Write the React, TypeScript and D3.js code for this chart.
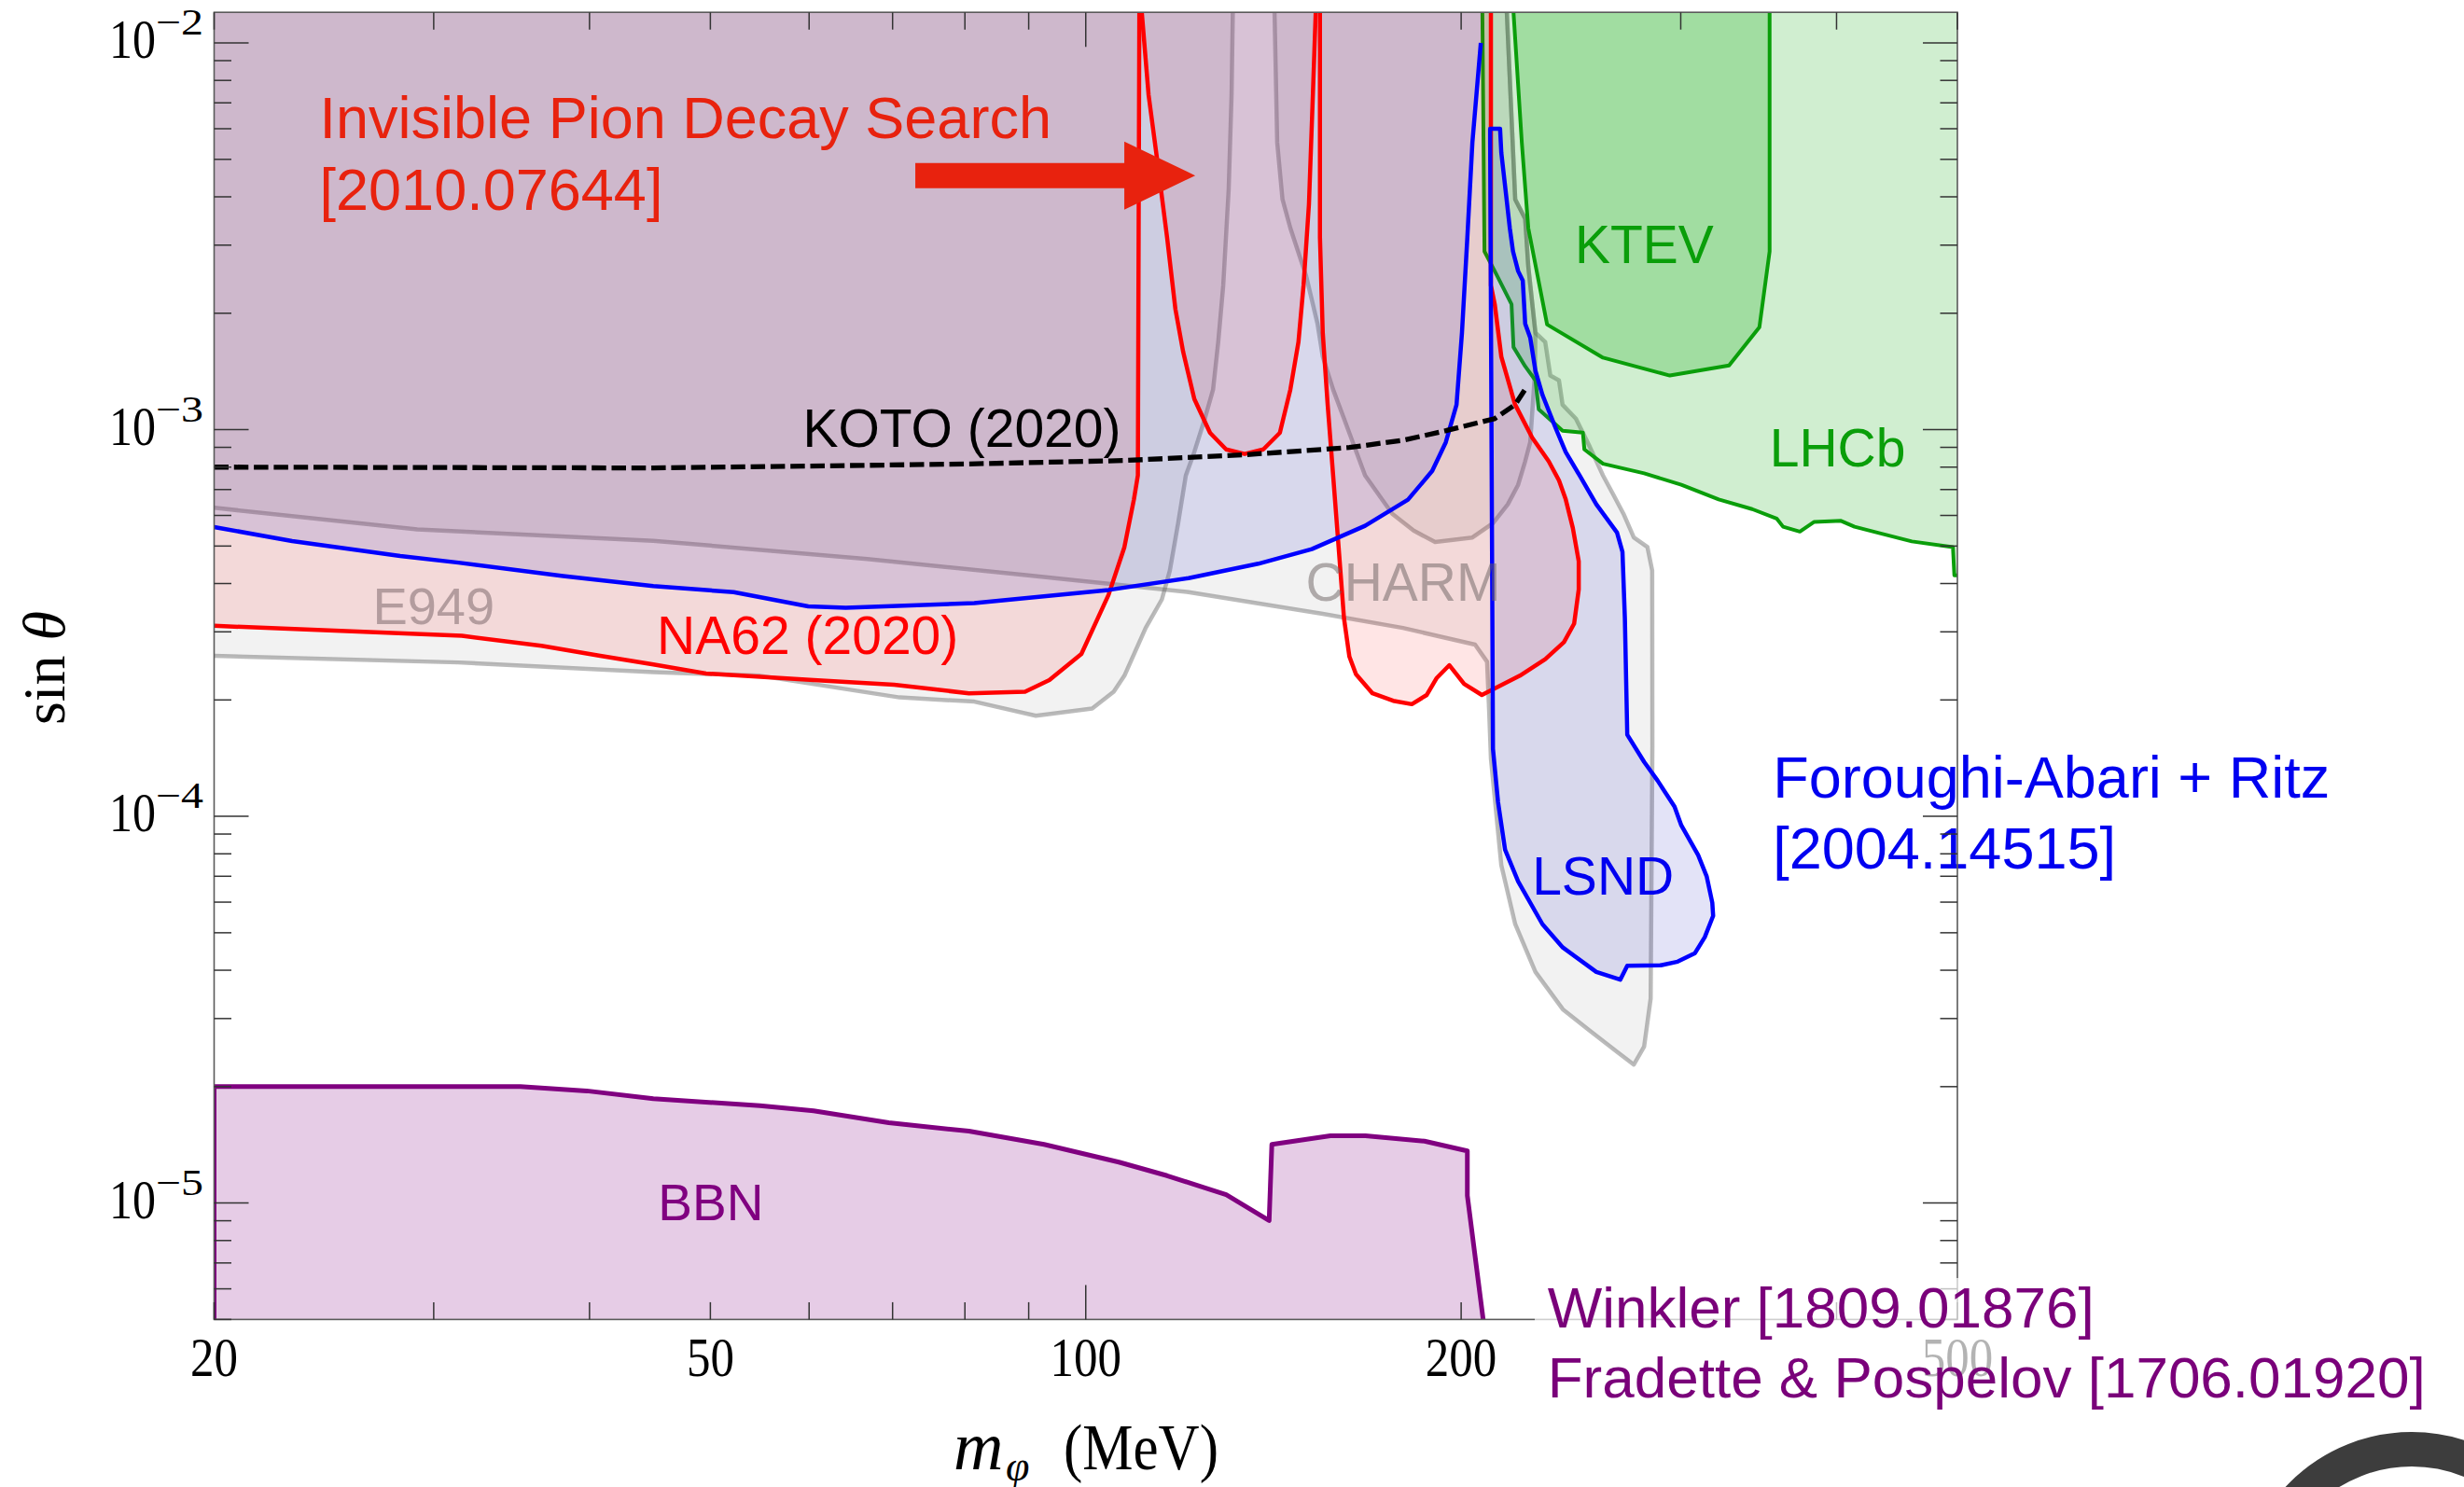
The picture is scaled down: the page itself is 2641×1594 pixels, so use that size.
import React, { useEffect } from 'react';
import * as d3 from 'd3';

type Pt = [number, number];

// ---------- axes ----------
const xDomain: [number, number] = [20, 500];
const yDomain: [number, number] = [5e-6, 1.2e-2];
const xTickValues = [20, 30, 40, 50, 60, 70, 80, 90, 100, 200, 300, 400, 500];
const xMajorTicks = [100];
const xTickLabels = [20, 50, 100, 200, 500];
const yDecades = [-6, -5, -4, -3, -2];
const yLabelExponents = [-5, -4, -3, -2];

// ---------- data: (m_phi [MeV], sin theta) ----------
const e949Left: Pt[] = [
  [20, 2.6e-4], [31.4, 2.5e-4], [45, 2.36e-4], [54.8, 2.31e-4], [70.9, 2.03e-4], [81.4, 1.98e-4],
  [91.2, 1.82e-4], [101.2, 1.9e-4], [105.3, 2.1e-4], [107.4, 2.31e-4], [111.7, 3.07e-4], [115.1, 3.64e-4],
  [116.8, 4.32e-4], [118.6, 5.73e-4], [120.3, 7.61e-4], [122.2, 8.76e-4], [124.6, 1.068e-3], [126.5, 1.269e-3],
  [127.7, 1.68e-3], [128.9, 2.36e-3], [130.2, 4.17e-3], [130.9, 7.34e-3], [131.2, 1.2e-2],
];
const e949Right: Pt[] = [
  [141.7, 1.2e-2], [142.4, 5.53e-3], [143.8, 3.94e-3], [145.9, 3.32e-3], [150.2, 2.5e-3], [153.4, 1.88e-3],
  [154.9, 1.544e-3], [157.9, 1.269e-3], [161.1, 1.068e-3], [167.5, 7.61e-4], [176.1, 6.06e-4], [183.2, 5.48e-4],
  [190.6, 5.12e-4], [204.2, 5.26e-4], [212.1, 5.73e-4], [218.0, 6.41e-4], [222.2, 7.2e-4], [225.1, 8.28e-4],
  [227.2, 9.27e-4], [229.2, 1.402e-3], [229.4, 1.78e-3], [226.4, 2.64e-3], [225.1, 3.51e-3], [221.0, 3.94e-3],
  [217.6, 1.2e-2],
];
const charmLsndOld: Pt[] = [
  [20, 6.28e-4], [29.1, 5.52e-4], [45, 5.16e-4], [66.8, 4.63e-4], [89.9, 4.2e-4], [120.9, 3.8e-4],
  [154.9, 3.34e-4], [179.6, 3.07e-4], [205.2, 2.78e-4], [209.8, 2.51e-4], [210.6, 1.88e-4], [211.3, 1.41e-4],
  [215.4, 7.47e-5], [221.0, 5.26e-5], [229.4, 3.96e-5], [241.3, 3.17e-5], [253.7, 2.79e-5], [266.7, 2.46e-5],
  [275.1, 2.28e-5], [280.4, 2.54e-5], [283.8, 3.38e-5], [284.7, 1.52e-4], [284.6, 4.32e-4], [282.1, 4.97e-4],
  [275.1, 5.26e-4], [269.9, 6.06e-4], [264.9, 6.79e-4], [259.9, 7.61e-4], [253.7, 9.01e-4], [247.2, 1.068e-3],
  [241.2, 1.16e-3], [239.6, 1.341e-3], [235.8, 1.38e-3], [233.6, 1.684e-3], [229.4, 1.78e-3], [226.4, 2.64e-3],
  [225.1, 3.51e-3], [221.0, 3.94e-3], [217.6, 1.2e-2],
];
const lhcb: Pt[] = [
  [208.0, 1.2e-2], [208.8, 2.89e-3], [212.8, 2.57e-3], [219.5, 2.11e-3], [220.3, 1.634e-3], [225.1, 1.458e-3],
  [229.4, 1.341e-3], [230.8, 1.129e-3], [241.2, 9.94e-4], [250.4, 9.83e-4], [251.1, 8.89e-4], [259.9, 8.16e-4],
  [280.4, 7.71e-4], [300.3, 7.2e-4], [321.8, 6.6e-4], [342.3, 6.23e-4], [358.1, 5.89e-4], [362.4, 5.61e-4],
  [373.8, 5.45e-4], [383.6, 5.77e-4], [403.3, 5.81e-4], [413.5, 5.61e-4], [434.8, 5.38e-4], [459.7, 5.14e-4],
  [495.9, 4.97e-4], [497.2, 4.2e-4], [500, 4.2e-4],
];
const ktev: Pt[] = [
  [220.3, 1.2e-2], [223.7, 5.53e-3], [226.4, 3.32e-3], [234.4, 1.87e-3], [259.9, 1.535e-3], [294.0, 1.38e-3],
  [328.0, 1.466e-3], [346.9, 1.84e-3], [353.5, 2.89e-3], [353.5, 1.2e-2],
];
const na62Left: Pt[] = [
  [20, 3.11e-4], [31.6, 2.93e-4], [36.6, 2.76e-4], [40.8, 2.6e-4], [45, 2.47e-4], [49.6, 2.34e-4],
  [60.5, 2.25e-4], [70.2, 2.19e-4], [80.6, 2.08e-4], [89.4, 2.1e-4], [93.5, 2.25e-4], [99.2, 2.63e-4],
  [104.3, 3.74e-4], [107.4, 4.97e-4], [109.3, 6.6e-4], [110.1, 7.61e-4], [110.4, 1.2e-2],
];
const invisiblePion: Pt[] = [
  [110.9, 1.2e-2], [112.3, 7.34e-3], [114.0, 5.09e-3], [116.2, 3.14e-3], [118.0, 2.05e-3], [119.7, 1.59e-3],
  [122.2, 1.2e-3], [125.8, 9.81e-4], [129.6, 8.89e-4], [134.1, 8.65e-4], [138.8, 8.89e-4], [143.1, 9.81e-4],
  [145.9, 1.269e-3], [148.1, 1.684e-3], [149.5, 2.36e-3], [151.0, 3.83e-3], [152.1, 7.34e-3], [152.9, 1.2e-2],
];
const na62Right: Pt[] = [
  [154.1, 1.2e-2], [154.1, 3.14e-3], [154.9, 1.78e-3], [156.3, 1.163e-3], [157.9, 7.61e-4], [159.5, 4.97e-4],
  [161.1, 3.25e-4], [162.7, 2.59e-4], [164.7, 2.33e-4], [169.8, 2.08e-4], [176.4, 1.99e-4], [182.6, 1.95e-4],
  [187.7, 2.06e-4], [191.2, 2.28e-4], [195.7, 2.46e-4], [201.1, 2.2e-4], [207.8, 2.06e-4], [214.6, 2.17e-4],
  [222.9, 2.31e-4], [233.6, 2.55e-4], [241.8, 2.82e-4], [246.4, 3.15e-4], [248.5, 3.86e-4], [248.5, 4.57e-4],
  [245.8, 5.57e-4], [242.6, 6.6e-4], [239.6, 7.39e-4], [235.1, 8.28e-4], [228.0, 9.54e-4], [220.9, 1.163e-3],
  [215.4, 1.544e-3], [212.8, 2.11e-3], [211.3, 2.36e-3], [211.3, 1.2e-2],
];
const blueMain: Pt[] = [
  [20, 5.6e-4], [23.1, 5.15e-4], [28.2, 4.71e-4], [31.4, 4.53e-4], [38.1, 4.18e-4], [45, 3.94e-4],
  [52.2, 3.8e-4], [59.9, 3.49e-4], [64.2, 3.46e-4], [81.4, 3.56e-4], [104.3, 3.85e-4], [120.9, 4.13e-4],
  [137.5, 4.5e-4], [151.8, 4.91e-4], [167.5, 5.64e-4], [181.3, 6.59e-4], [189.6, 7.82e-4], [194.4, 9.27e-4],
  [198.3, 1.16e-3], [200.3, 1.78e-3], [202.3, 3.14e-3], [204.2, 5.53e-3], [207.4, 1.0e-2],
];
const lsndBlue: Pt[] = [
  [211.0, 5.55e-3], [211.0, 6.0e-3], [214.9, 6.0e-3], [215.4, 5.2e-3], [217.3, 4.05e-3], [218.8, 3.32e-3],
  [220.1, 2.89e-3], [222.2, 2.57e-3], [224.1, 2.43e-3], [225.1, 1.88e-3], [227.2, 1.73e-3], [229.4, 1.42e-3],
  [232.4, 1.23e-3], [238.1, 1.01e-3], [242.6, 8.75e-4], [248.9, 7.61e-4], [256.7, 6.41e-4], [266.7, 5.42e-4],
  [269.4, 4.83e-4], [270.6, 3.25e-4], [271.8, 1.625e-4], [280.4, 1.383e-4], [287.4, 1.238e-4], [296.6, 1.059e-4],
  [300.3, 9.48e-5], [309.8, 7.94e-5], [314.7, 7.0e-5], [318.0, 5.98e-5], [318.5, 5.53e-5], [313.6, 4.87e-5],
  [308.0, 4.43e-5], [298.3, 4.21e-5], [289.2, 4.12e-5], [271.8, 4.11e-5], [268.3, 3.78e-5], [256.7, 3.96e-5],
  [241.3, 4.58e-5], [232.4, 5.26e-5], [222.2, 6.79e-5], [216.9, 8.2e-5], [214.1, 1.089e-4], [212.1, 1.495e-4],
  [211.0, 5.55e-3],
];
const bbn: Pt[] = [
  [20, 5.0e-6], [20, 2.0e-5], [35.2, 2.0e-5], [39.8, 1.95e-5], [45, 1.862e-5], [54.8, 1.785e-5],
  [60.5, 1.732e-5], [69.5, 1.614e-5], [80.6, 1.534e-5], [92.6, 1.418e-5], [106.3, 1.276e-5], [116.2, 1.177e-5],
  [129.6, 1.051e-5], [140.3, 9.01e-6], [141.0, 1.418e-5], [157.1, 1.493e-5], [167.6, 1.493e-5], [186.9, 1.446e-5],
  [202.3, 1.364e-5], [202.3, 1.045e-5], [208.3, 5.0e-6],
];
const koto: Pt[] = [
  [20, 8.0e-4], [45, 7.96e-4], [60, 8.05e-4], [80, 8.15e-4], [107.4, 8.32e-4], [133.4, 8.6e-4],
  [162.7, 8.99e-4], [180, 9.4e-4], [194.5, 9.94e-4], [212.8, 1.068e-3], [221, 1.161e-3], [226, 1.297e-3],
];

// annotation arrow (data space)
const arrowFrom: Pt = [73.0, 4.54e-3];
const arrowTo: Pt = [122.4, 4.54e-3];

type Label = { text: string; m: number; s: number; color: string; size: number };
const labels: Label[] = [
  { text: 'Invisible Pion Decay Search', m: 24.3, s: 5.69e-3, color: '#E8220E', size: 63 },
  { text: '[2010.07644]', m: 24.3, s: 3.71e-3, color: '#E8220E', size: 63 },
  { text: 'KOTO (2020)', m: 59.3, s: 9.01e-4, color: '#000000', size: 57 },
  { text: 'NA62 (2020)', m: 45.3, s: 2.63e-4, color: '#FF0000', size: 57 },
  { text: 'E949', m: 26.8, s: 3.14e-4, color: 'rgba(115,95,100,0.5)', size: 56 },
  { text: 'CHARM', m: 150.1, s: 3.6e-4, color: 'rgba(105,95,95,0.5)', size: 57 },
  { text: 'KTEV', m: 246.7, s: 2.69e-3, color: '#0A9E0A', size: 57 },
  { text: 'LHCb', m: 353.5, s: 8.04e-4, color: '#0A9E0A', size: 57 },
  { text: 'LSND', m: 228.0, s: 6.27e-5, color: '#0000F0', size: 57 },
  { text: 'Foroughi-Abari + Ritz', m: 355.6, s: 1.12e-4, color: '#0000F0', size: 63 },
  { text: '[2004.14515]', m: 355.6, s: 7.35e-5, color: '#0000F0', size: 63 },
  { text: 'BBN', m: 45.4, s: 9.01e-6, color: '#800080', size: 55 },
];
const refLabels: Label[] = [
  { text: 'Winkler [1809.01876]', m: 234.6, s: 4.77e-6, color: '#7A007A', size: 62 },
  { text: 'Fradette & Pospelov [1706.01920]', m: 234.6, s: 3.15e-6, color: '#7A007A', size: 62 },
];

const W = 2641;
const H = 1594;
const L = 229.5;
const R = 2098;
const T = 13.2;
const B = 1414.4;

const GRAY_FILL = 'rgba(0,0,0,0.05)';
const GRAY_STROKE = 'rgba(105,105,105,0.45)';
const PINK_FILL = 'rgba(255,0,0,0.1)';
const BLUE_FILL = 'rgba(70,70,200,0.15)';
const SANS = 'Liberation Sans, Arial, Helvetica, sans-serif';
const SERIF = 'Liberation Serif, Times New Roman, serif';

export default function App() {
  useEffect(() => {
    document.body.style.margin = '0';
    document.body.style.overflow = 'hidden';
  }, []);

  const x = d3.scaleLog().domain(xDomain).range([L, R]);
  const y = d3.scaleLog().domain(yDomain).range([B, T]);
  const line = d3.line<Pt>().x((d) => x(d[0])).y((d) => y(d[1]));
  const OUT_TOP = 0.05;
  const OUT_BOT = 1e-6;
  const fillAbove = (p: Pt[]) =>
    (line([...p, [p[p.length - 1][0], OUT_TOP], [p[0][0], OUT_TOP]]) || '') + 'Z';
  const fillBelow = (p: Pt[]) =>
    (line([...p, [p[p.length - 1][0], OUT_BOT], [p[0][0], OUT_BOT]]) || '') + 'Z';
  const closed = (p: Pt[]) => (line(p) || '') + 'Z';
  const open = (p: Pt[]) => line(p) || '';

  // y ticks
  const yTicks: { v: number; major: boolean }[] = [];
  yDecades.forEach((k) => {
    for (let m = 1; m <= 9; m++) {
      const v = m * Math.pow(10, k);
      if (v >= yDomain[0] * 0.999 && v <= yDomain[1]) yTicks.push({ v, major: m === 1 });
    }
  });

  // arrow geometry
  const ax0 = x(arrowFrom[0]);
  const ax1 = x(arrowTo[0]);
  const ay = y(arrowFrom[1]);
  const headLen = 76;
  const shaftHalf = 13.5;
  const headHalf = 36.5;
  const arrowPts = [
    [ax0, ay - shaftHalf], [ax1 - headLen, ay - shaftHalf], [ax1 - headLen, ay - headHalf], [ax1, ay],
    [ax1 - headLen, ay + headHalf], [ax1 - headLen, ay + shaftHalf], [ax0, ay + shaftHalf],
  ];

  return (
    <svg
      width={W}
      height={H}
      viewBox={`0 0 ${W} ${H}`}
      style={{ position: 'absolute', left: 0, top: 0, display: 'block' }}
    >
      <defs>
        <clipPath id="plotArea">
          <rect x={L} y={T} width={R - L} height={B - T} />
        </clipPath>
      </defs>
      <rect x={0} y={0} width={W} height={H} fill="#ffffff" />

      <g clipPath="url(#plotArea)">
        {/* old gray constraints */}
        <path d={fillAbove(e949Left)} fill={GRAY_FILL} />
        <path d={fillAbove(e949Right)} fill={GRAY_FILL} />
        <path d={fillAbove(charmLsndOld)} fill={GRAY_FILL} />
        <path d={open(e949Left)} fill="none" stroke={GRAY_STROKE} strokeWidth={4.5} strokeLinejoin="round" />
        <path d={open(e949Right)} fill="none" stroke={GRAY_STROKE} strokeWidth={4.5} strokeLinejoin="round" />
        <path d={open(charmLsndOld)} fill="none" stroke={GRAY_STROKE} strokeWidth={4.5} strokeLinejoin="round" />

        {/* green */}
        <path d={fillAbove(lhcb)} fill="rgba(20,170,20,0.2)" />
        <path d={fillAbove(ktev)} fill="rgba(20,170,20,0.25)" />
        <path d={open(lhcb)} fill="none" stroke="#0A9E0A" strokeWidth={4} strokeLinejoin="round" />
        <path d={open(ktev)} fill="none" stroke="#0A9E0A" strokeWidth={4} strokeLinejoin="round" />

        {/* red fills */}
        <path d={fillAbove(na62Left)} fill={PINK_FILL} />
        <path d={fillAbove(invisiblePion)} fill={PINK_FILL} />
        <path d={fillAbove(na62Right)} fill={PINK_FILL} />
        {/* blue fills */}
        <path d={fillAbove(blueMain)} fill={BLUE_FILL} />
        <path d={closed(lsndBlue)} fill={BLUE_FILL} />

        {/* strokes */}
        <path d={open(na62Left)} fill="none" stroke="#FF0000" strokeWidth={4.5} strokeLinejoin="round" />
        <path d={open(invisiblePion)} fill="none" stroke="#FF0000" strokeWidth={4.5} strokeLinejoin="round" />
        <path d={open(na62Right)} fill="none" stroke="#FF0000" strokeWidth={4.5} strokeLinejoin="round" />
        <path d={open(blueMain)} fill="none" stroke="#0000FF" strokeWidth={4.5} strokeLinejoin="round" />
        <path d={open(lsndBlue)} fill="none" stroke="#0000FF" strokeWidth={4.5} strokeLinejoin="round" />

        {/* BBN */}
        <path d={fillBelow(bbn)} fill="rgba(128,0,128,0.2)" />
        <path d={open(bbn)} fill="none" stroke="#800080" strokeWidth={5} strokeLinejoin="round" />

        {/* KOTO */}
        <path d={open(koto)} fill="none" stroke="#000" strokeWidth={5.3} strokeDasharray="15.5 5.8" />
      </g>

      {/* arrow */}
      <polygon points={arrowPts.map((p) => p.join(',')).join(' ')} fill="#E8220E" />

      {/* labels */}
      {labels.map((lb, i) => (
        <text key={i} x={x(lb.m)} y={y(lb.s)} fill={lb.color} fontSize={lb.size} fontFamily={SANS}>
          {lb.text}
        </text>
      ))}

      {/* frame */}
      <rect x={L} y={T} width={R - L} height={B - T} fill="none" stroke="#5a5a5a" strokeWidth={1.6} />

      {/* x ticks */}
      {xTickValues.map((v) => {
        const len = xMajorTicks.includes(v) ? 37 : 18.5;
        const px = x(v);
        return (
          <g key={`xt${v}`} stroke="#333" strokeWidth={1.5}>
            <line x1={px} x2={px} y1={B} y2={B - len} />
            <line x1={px} x2={px} y1={T} y2={T + len} />
          </g>
        );
      })}
      {/* y ticks */}
      {yTicks.map((t, i) => {
        const len = t.major ? 37 : 18.5;
        const py = y(t.v);
        return (
          <g key={`yt${i}`} stroke="#333" strokeWidth={1.5}>
            <line x1={L} x2={L + len} y1={py} y2={py} />
            <line x1={R} x2={R - len} y1={py} y2={py} />
          </g>
        );
      })}

      {/* x tick labels */}
      {xTickLabels.map((v) => {
        const s = String(v);
        return (
          <text
            key={`xl${v}`}
            x={x(v)}
            y={1475}
            textAnchor="middle"
            fontFamily={SERIF}
            fontSize={60}
            textLength={25.5 * s.length}
            lengthAdjust="spacingAndGlyphs"
            fill="#000"
          >
            {s}
          </text>
        );
      })}

      {/* y tick labels */}
      {yLabelExponents.map((k) => {
        const py = y(Math.pow(10, k));
        return (
          <g key={`yl${k}`} fontFamily={SERIF} fill="#000">
            <text x={167} y={py + 16} textAnchor="end" fontSize={60} textLength={50} lengthAdjust="spacingAndGlyphs">
              10
            </text>
            <text x={167} y={py - 9} fontSize={40} textLength={51} lengthAdjust="spacingAndGlyphs">
              {'\u2212' + Math.abs(k)}
            </text>
          </g>
        );
      })}

      {/* axis titles */}
      <g fontFamily={SERIF} fill="#000">
        <text x={1022} y={1575} fontSize={74} fontStyle="italic">
          m
        </text>
        <text x={1078} y={1587} fontSize={46} fontStyle="italic">
          φ
        </text>
        <text transform="translate(1140,1575) scale(1,1.15)" fontSize={61}>
          (MeV)
        </text>
        <text transform="translate(69,716) rotate(-90)" textAnchor="middle" fontSize={64}>
          sin <tspan fontStyle="italic">θ</tspan>
        </text>
      </g>

      {/* translucent box behind references */}
      <rect x={1645} y={1370} width={W - 1645} height={H - 1370} fill="#fff" opacity={0.7} />
      {refLabels.map((lb, i) => (
        <text key={`rl${i}`} x={x(lb.m)} y={y(lb.s)} fill={lb.color} fontSize={lb.size} fontFamily={SANS}>
          {lb.text}
        </text>
      ))}

      {/* corner ring */}
      <circle cx={2585} cy={1720} r={166.5} fill="none" stroke="#3d3d3d" strokeWidth={37} />
    </svg>
  );
}
